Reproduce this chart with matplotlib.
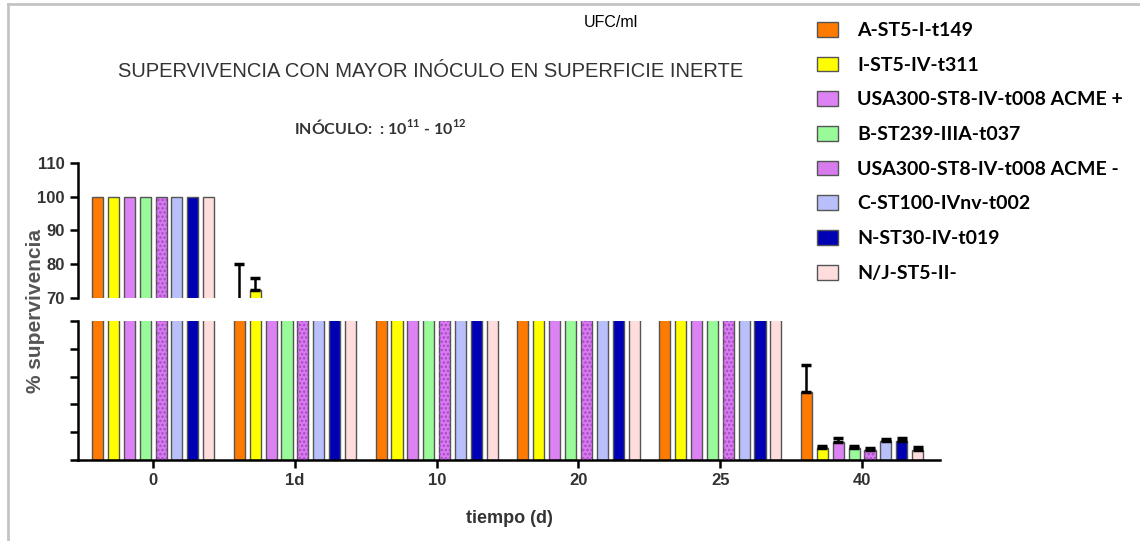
import numpy as np
import matplotlib
matplotlib.use('Agg')
import matplotlib.pyplot as plt
from matplotlib.lines import Line2D

# data (values in the 50-70 gap are off both scales in the reference)
groups = ['0', '1d', '10', '20', '25', '40']
strains = ['A-ST5-I-t149', 'I-ST5-IV-t311', 'USA300-ST8-IV-t008 ACME +',
           'B-ST239-IIIA-t037', 'USA300-ST8-IV-t008 ACME -', 'C-ST100-IVnv-t002',
           'N-ST30-IV-t019', 'N/J-ST5-II-']
colors_ = ['#FF7A00', '#FFFF00', '#DD82F5', '#99FA99', '#D77BEF', '#B9BFFA',
           '#0000B4', '#FFDDDD']
hatched = [False, False, False, False, True, False, False, False]

orange = [100, 65, 60, 60, 60, 24.5]
yellow = [100, 72.5, 60, 60, 60, 4.2]
violet = [100, 60, 60, 60, 60, 6.5]
green = [100, 60, 60, 60, 60, 4.2]
purple = [100, 60, 60, 60, 60, 3.5]
lightblue = [100, 60, 60, 60, 60, 6.8]
navy = [100, 60, 60, 60, 60, 7.0]
pink = [100, 60, 60, 60, 60, 3.5]

orange_err = [0, 15, 0, 0, 0, 9.5]
yellow_err = [0, 3.5, 0, 0, 0, 1.0]
violet_err = [0, 0, 0, 0, 0, 1.5]
green_err = [0, 0, 0, 0, 0, 1.0]
purple_err = [0, 0, 0, 0, 0, 0.8]
lightblue_err = [0, 0, 0, 0, 0, 0.8]
navy_err = [0, 0, 0, 0, 0, 0.8]
pink_err = [0, 0, 0, 0, 0, 1.0]

series = [orange, yellow, violet, green, purple, lightblue, navy, pink]
errors = [orange_err, yellow_err, violet_err, green_err, purple_err,
          lightblue_err, navy_err, pink_err]

plt.rcParams['font.family'] = ['Liberation Sans', 'DejaVu Sans']
plt.rcParams['mathtext.fontset'] = 'custom'
plt.rcParams['mathtext.rm'] = 'Lato'
plt.rcParams['mathtext.bf'] = 'Lato:bold'
plt.rcParams['hatch.linewidth'] = 1.2

fig = plt.figure(figsize=(11.4, 5.41), dpi=100)
ax_top = fig.add_axes([0.0684, 0.449, 0.7562, 0.250])
ax_bot = fig.add_axes([0.0684, 0.1497, 0.7562, 0.257])

x = np.arange(len(groups))
slot = 0.112
width = 0.078
txtc = '#333333'

handles = []
for ax in (ax_top, ax_bot):
    for j, (vals, errs) in enumerate(zip(series, errors)):
        pos = x + (j - 3.5) * slot
        b = ax.bar(pos, vals, width, color=colors_[j], edgecolor='#555555',
                   linewidth=1.0, label=strains[j], zorder=2)
        if hatched[j]:
            ax.bar(pos, vals, width, color='none', edgecolor='#A848C8',
                   linewidth=0, hatch='....', zorder=3)
        yerr = np.array([np.zeros(len(errs)), errs])
        mask = np.array(errs) > 0
        ax.errorbar(pos[mask], np.array(vals)[mask], yerr=yerr[:, mask],
                    fmt='none', ecolor='black', elinewidth=1.8, capsize=3.5,
                    capthick=2.5, zorder=4)
        if ax is ax_bot:
            handles.append(b)
    ax.set_xlim(-0.53, 5.55)
    for s in ('top', 'right'):
        ax.spines[s].set_visible(False)
    ax.spines['left'].set_linewidth(1.8)
    ax.spines['bottom'].set_linewidth(1.8)
    ax.tick_params(axis='y', direction='out', length=6, width=1.8,
                   labelsize=12, labelcolor=txtc)

ax_top.set_ylim(70, 110)
ax_top.set_yticks([70, 80, 90, 100, 110])
ax_top.spines['bottom'].set_visible(False)
ax_top.set_xticks([])
for t in ax_top.get_yticklabels():
    t.set_fontweight('bold')

ax_bot.set_ylim(0, 50)
ax_bot.set_yticks([0, 10, 20, 30, 40, 50])
ax_bot.set_yticklabels([])
ax_bot.set_xticks(x)
ax_bot.set_xticklabels(groups, fontsize=12, fontweight='bold', color=txtc)
ax_bot.tick_params(axis='x', direction='out', length=6, width=1.8)
ax_bot.set_xlabel('tiempo (d)', fontsize=13, fontweight='bold', color=txtc,
                  labelpad=16)

fig.text(0.031, 0.425, '% supervivencia', rotation=90, ha='center',
         va='center', fontsize=15, fontweight='bold', color='#555555')

fig.text(0.378, 0.867, 'SUPERVIVENCIA CON MAYOR INÓCULO EN SUPERFICIE INERTE',
         ha='center', va='center', fontsize=14.5, color=txtc)
fig.text(0.334, 0.765, r'INÓCULO:  : 10$^{\mathbf{11}}$ - 10$^{\mathbf{12}}$',
         ha='center', va='center', fontsize=11.5, fontweight='bold', color=txtc,
         family='Lato')
fig.text(0.536, 0.958, 'UFC/ml', ha='center', va='center', fontsize=11.5,
         color='black')

fig.legend(handles, strains, loc='upper left', bbox_to_anchor=(0.701, 0.992),
           frameon=False, prop={'family': 'Lato', 'weight': 'bold', 'size': 14},
           handlelength=1.1, handleheight=0.8, handletextpad=1.0,
           labelspacing=0.9)

# gray frame on top and left
fig.add_artist(Line2D([0.007, 1.0], [0.993, 0.993], color='#C4C4C4', lw=2))
fig.add_artist(Line2D([0.007, 0.007], [0.0, 0.993], color='#C4C4C4', lw=2))

fig.savefig('out.png', dpi=100)
